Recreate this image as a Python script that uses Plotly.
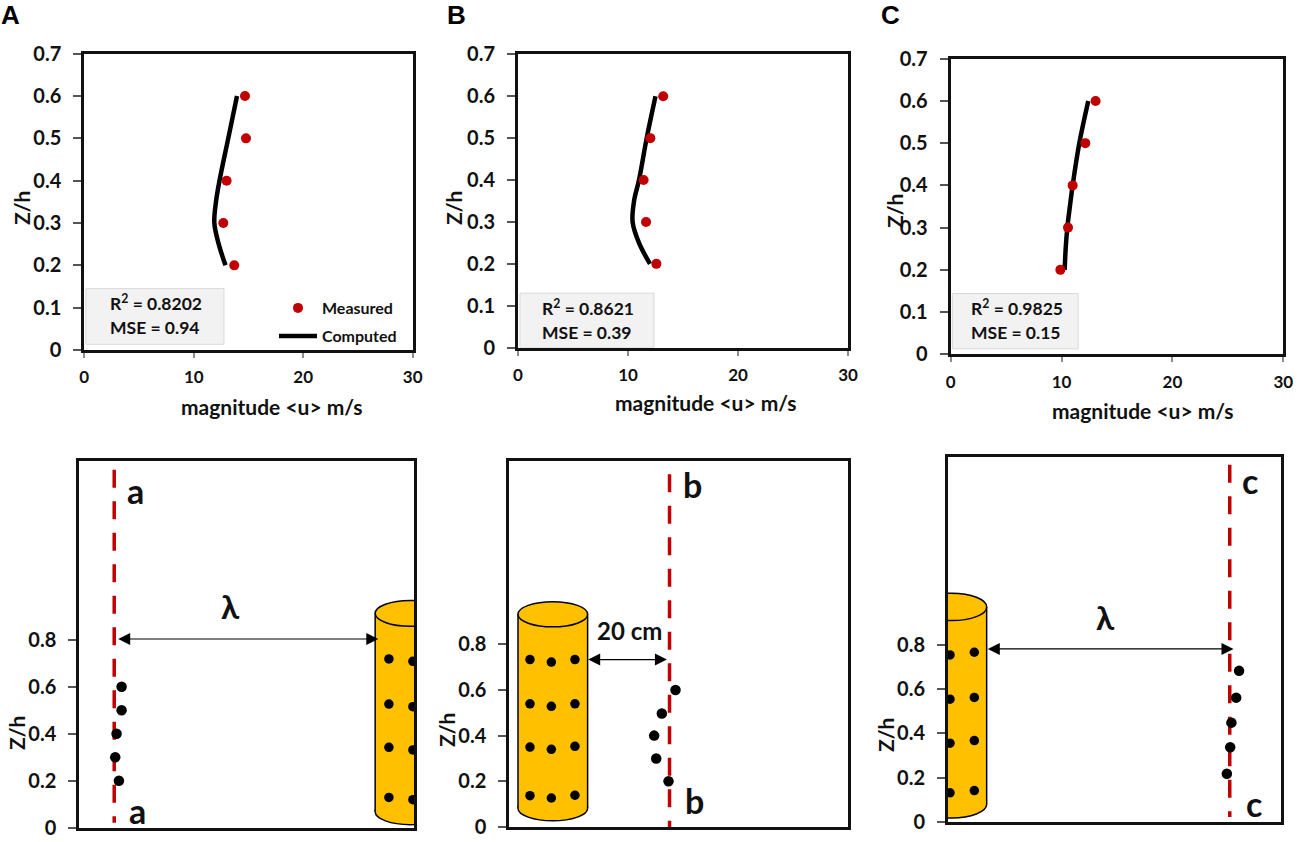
import plotly.graph_objects as go

W = 1299
H = 842
FONT = "Lato"
RED = "#C00000"
GOLD = "#FFC000"

# top row: measured and computed velocity profiles
z_measured = [0.6, 0.5, 0.4, 0.3, 0.2]
u_measured_a = [14.68, 14.77, 13.0, 12.7, 13.7]
u_measured_b = [13.2, 12.03, 11.42, 11.64, 12.58]
u_measured_c = [13.07, 12.14, 11.0, 10.58, 9.89]

z_computed = [0.6, 0.5, 0.4, 0.35, 0.3, 0.25, 0.2]
u_computed_a = [13.95, 13.15, 12.35, 12.03, 11.88, 12.28, 12.9]
u_computed_b = [12.5, 11.7, 11.0, 10.55, 10.42, 11.0, 12.0]
u_computed_c = [12.41, 11.6, 11.0, 10.75, 10.52, 10.37, 10.28]

r2_labels = ["R<sup>2</sup> = 0.8202", "R<sup>2</sup> = 0.8621", "R<sup>2</sup> = 0.9825"]
mse_labels = ["MSE = 0.94", "MSE = 0.39", "MSE = 0.15"]
panel_letters = ["A", "B", "C"]

top_yticks = [0, 0.1, 0.2, 0.3, 0.4, 0.5, 0.6, 0.7]
top_yticktext = ["0", "0.1", "0.2", "0.3", "0.4", "0.5", "0.6", "0.7"]
top_xticks = [0, 10, 20, 30]
bottom_yticks = [0, 0.2, 0.4, 0.6, 0.8]
bottom_yticktext = ["0", "0.2", "0.4", "0.6", "0.8"]

# bottom row: sampling points next to the cylinder
z_points_a = [0.6, 0.5, 0.4, 0.3, 0.2]
x_points_a = [3.79, 3.79, 3.34, 3.22, 3.55]
z_points_b = [0.6, 0.497, 0.4, 0.3, 0.2]
x_points_b = [14.71, 13.5, 12.82, 13.0, 14.09]
z_points_c = [0.683, 0.562, 0.449, 0.338, 0.218]
x_points_c = [26.2, 25.94, 25.51, 25.4, 25.1]

line_x = [3.13, 14.18, 25.36]
line_top = [1.523, 1.544, 1.614]
line_bottom = [0.021, 0.0, 0.023]

# cylinder: centre x, half width, top y, bottom y, ellipse half height
cyl_x = [29.66, 3.85, 0.33]
cyl_rx = [3.14, 3.08, 3.15]
cyl_top = [0.912, 0.931, 0.972]
cyl_bottom = [0.068, 0.082, 0.08]
cyl_ry = [0.055, 0.055, 0.062]

holes_x_a = [27.75, 27.75, 27.75, 27.75, 29.9, 29.9, 29.9, 29.9]
holes_y_a = [0.718, 0.526, 0.342, 0.129, 0.708, 0.515, 0.331, 0.119]
holes_x_b = [1.83, 1.83, 1.83, 1.83, 3.72, 3.72, 3.72, 3.72, 5.81, 5.81, 5.81, 5.81]
holes_y_b = [0.733, 0.539, 0.350, 0.137, 0.722, 0.528, 0.340, 0.127, 0.733, 0.539, 0.353, 0.139]
holes_x_c = [0.18, 0.18, 0.18, 0.18, 2.37, 2.37, 2.37, 2.37]
holes_y_c = [0.755, 0.555, 0.356, 0.132, 0.767, 0.563, 0.368, 0.142]

arrow_y = [0.803, 0.733, 0.782]
arrow_x0 = [3.35, 6.85, 3.45]
arrow_x1 = [26.8, 13.95, 25.7]

# pixel boxes of the subplots: left, right, top, bottom
top_boxes = [(84.3, 412.7, 53.7, 350), (518, 848, 54.3, 347.7), (950.7, 1283.3, 58.7, 354.3)]
bottom_boxes = [(79.3, 414, 461.3, 827.7), (509.3, 848.3, 461, 827), (948, 1281.3, 457.3, 822)]
bottom_ymax = [1.559, 1.602, 1.648]


def px(x):
    return x / W


def py(y):
    return 1 - y / H


def bold(size, color="#111111"):
    return dict(family=FONT, size=size, color=color, weight="bold")


fig = go.Figure()
layout = {}
annotations = []
shapes = []

measured = [u_measured_a, u_measured_b, u_measured_c]
computed = [u_computed_a, u_computed_b, u_computed_c]

stat_box = [(0.15, 12.76, 0.0135, 0.145), (0.18, 12.36, 0.0, 0.13), (0.15, 11.5, 0.013, 0.144)]
stat_text = [(2.2, 0.113, 0.052), (2.0, 0.097, 0.037), (1.65, 0.112, 0.051)]

for i in range(3):
    n = i + 1
    left, right, top, bottom = top_boxes[i]
    xname = "x%d" % n
    yname = "y%d" % n
    layout["xaxis%d" % n] = dict(
        domain=[px(left), px(right)], range=[0, 30], anchor=yname, tickvals=top_xticks,
        ticks="outside", ticklen=5, tickcolor="#8c8c8c", tickwidth=1.5, tickfont=bold(17),
        ticklabelstandoff=5, showgrid=False, zeroline=False,
        showline=True, linecolor="#111111", linewidth=3, mirror=True)
    layout["yaxis%d" % n] = dict(
        domain=[py(bottom), py(top)], range=[0, 0.7], anchor=xname, tickvals=top_yticks,
        ticktext=top_yticktext, ticks="outside", ticklen=8, tickcolor="#555555", tickwidth=1.5,
        tickfont=bold(20), ticklabelstandoff=8, showgrid=False, zeroline=False,
        showline=True, linecolor="#111111", linewidth=3, mirror=True)

    x0, x1, y0, y1 = stat_box[i]
    shapes.append(dict(type="rect", xref=xname, yref=yname, x0=x0, x1=x1, y0=y0, y1=y1,
                       fillcolor="#F2F2F2", line=dict(color="#D9D9D9", width=1), layer="below"))
    tx, ty1, ty2 = stat_text[i]
    annotations.append(dict(xref=xname, yref=yname, x=tx, y=ty1, text=r2_labels[i], showarrow=False,
                            xanchor="left", font=bold(17.5)))
    annotations.append(dict(xref=xname, yref=yname, x=tx, y=ty2, text=mse_labels[i], showarrow=False,
                            xanchor="left", font=bold(17.5)))

    fig.add_trace(go.Scatter(
        x=computed[i], y=z_computed, xaxis=xname, yaxis=yname, mode="lines", name="Computed",
        line=dict(color="black", width=4.5, shape="spline"), showlegend=i == 0, legend="legend2"))
    fig.add_trace(go.Scatter(
        x=measured[i], y=z_measured, xaxis=xname, yaxis=yname, mode="markers", name="Measured",
        marker=dict(color=RED, size=10), showlegend=i == 0, legend="legend"))

# lower row
points = [(x_points_a, z_points_a), (x_points_b, z_points_b), (x_points_c, z_points_c)]
holes = [(holes_x_a, holes_y_a), (holes_x_b, holes_y_b), (holes_x_c, holes_y_c)]
for i in range(3):
    n = i + 4
    left, right, top, bottom = bottom_boxes[i]
    xname = "x%d" % n
    yname = "y%d" % n
    layout["xaxis%d" % n] = dict(
        domain=[px(left), px(right)], range=[0, 30], anchor=yname, showticklabels=False,
        ticks="", showgrid=False, zeroline=False,
        showline=True, linecolor="#111111", linewidth=3, mirror=True)
    layout["yaxis%d" % n] = dict(
        domain=[py(bottom), py(top)], range=[0, bottom_ymax[i]], anchor=xname,
        tickvals=bottom_yticks, ticktext=bottom_yticktext, ticks="outside", ticklen=8,
        tickcolor="#555555", tickwidth=1.5, tickfont=bold(20), ticklabelstandoff=8,
        showgrid=False, zeroline=False,
        showline=True, linecolor="#111111", linewidth=3, mirror=True)

    cx, rx, ct, cb, ry = cyl_x[i], cyl_rx[i], cyl_top[i], cyl_bottom[i], cyl_ry[i]
    edge = dict(color="black", width=1.5)
    base = dict(xref=xname, yref=yname, layer="below")
    shapes.append(dict(type="circle", x0=cx - rx, x1=cx + rx, y0=cb - ry, y1=cb + ry,
                       fillcolor=GOLD, line=edge, **base))
    shapes.append(dict(type="rect", x0=cx - rx, x1=cx + rx, y0=cb, y1=ct,
                       fillcolor=GOLD, line=dict(width=0), **base))
    shapes.append(dict(type="line", x0=cx - rx, x1=cx - rx, y0=cb, y1=ct, line=edge, **base))
    shapes.append(dict(type="line", x0=cx + rx, x1=cx + rx, y0=cb, y1=ct, line=edge, **base))
    shapes.append(dict(type="circle", x0=cx - rx, x1=cx + rx, y0=ct - ry, y1=ct + ry,
                       fillcolor=GOLD, line=edge, **base))

    fig.add_trace(go.Scatter(
        x=holes[i][0], y=holes[i][1], xaxis=xname, yaxis=yname, mode="markers",
        marker=dict(color="black", size=9.5), showlegend=False))
    fig.add_trace(go.Scatter(
        x=[line_x[i], line_x[i]], y=[line_top[i], line_bottom[i]], xaxis=xname, yaxis=yname,
        mode="lines", line=dict(color=RED, width=3.5, dash="18px,13.5px"), showlegend=False))
    fig.add_trace(go.Scatter(
        x=points[i][0], y=points[i][1], xaxis=xname, yaxis=yname, mode="markers",
        marker=dict(color="black", size=10.5), showlegend=False))

    annotations.append(dict(
        xref=xname, yref=yname, axref=xname, ayref=yname, x=arrow_x1[i], y=arrow_y[i],
        ax=arrow_x0[i], ay=arrow_y[i], text="", showarrow=True, arrowside="end+start",
        arrowhead=2, arrowsize=2, arrowwidth=1.2, arrowcolor="black", standoff=0, startstandoff=0))

labels_a = [("a", 5.08, 1.435, 34), ("a", 5.2, 0.073, 34), ("λ", 13.58, 0.945, 33)]
labels_b = [("b", 16.2, 1.5, 34), ("b", 16.43, 0.115, 34), ("20 cm", 10.6, 0.862, 24)]
labels_c = [("c", 27.2, 1.545, 34), ("c", 27.5, 0.085, 34), ("λ", 14.2, 0.925, 33)]
for i, labels in enumerate([labels_a, labels_b, labels_c]):
    for text, x, y, size in labels:
        annotations.append(dict(xref="x%d" % (i + 4), yref="y%d" % (i + 4), x=x, y=y, text=text,
                                showarrow=False, font=bold(size)))

# text placed on the page
centered = dict(xref="paper", yref="paper", xanchor="center", yanchor="middle", showarrow=False)

letter_pos = [(10, 15), (456, 15), (890, 15)]
for text, (x, y) in zip(panel_letters, letter_pos):
    annotations.append(dict(x=px(x), y=py(y), text=text,
                            font=dict(family="Liberation Sans", size=26, color="black", weight="bold"),
                            **centered))

xtitle_pos = [(271, 406), (705, 403), (1142, 411)]
for x, y in xtitle_pos:
    annotations.append(dict(x=px(x), y=py(y), text="magnitude &lt;u&gt; m/s", font=bold(21), **centered))

ztitle_pos = [(22, 208), (454, 208), (894, 211), (16, 733), (446, 730), (885, 735)]
for x, y in ztitle_pos:
    annotations.append(dict(x=px(x), y=py(y), text="Z/h", textangle=-90, font=bold(21), **centered))

fig.update_layout(
    width=W, height=H,
    margin=dict(l=0, r=0, t=0, b=0, autoexpand=False),
    paper_bgcolor="white", plot_bgcolor="white",
    annotations=annotations, shapes=shapes,
    legend=dict(x=px(274), y=py(308), xanchor="left", yanchor="middle", itemwidth=38,
                bgcolor="rgba(0,0,0,0)", font=bold(16)),
    legend2=dict(x=px(274), y=py(336), xanchor="left", yanchor="middle", itemwidth=38,
                 bgcolor="rgba(0,0,0,0)", font=bold(16)),
    **layout)

# the browser's default body margin would push the chart 8px off the page
fig.write_html("out.html", config=dict(displayModeBar=False),
               post_script="document.body.style.margin = '0';")
